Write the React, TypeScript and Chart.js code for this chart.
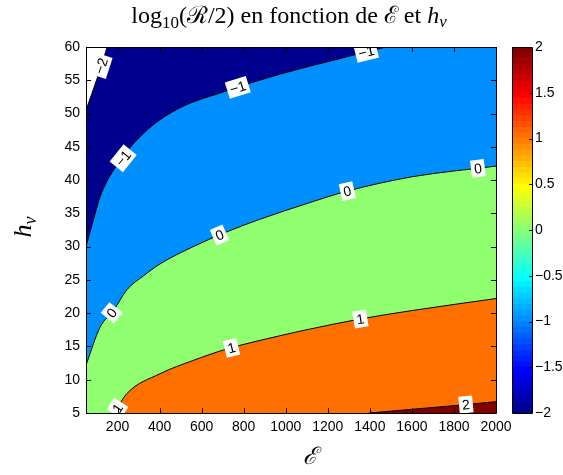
import React, { useEffect, useRef } from "react";
import { Chart, registerables } from "chart.js";

Chart.register(...registerables);

// ---------- axes ----------
const E_MIN = 50;
const E_MAX = 2000;
const H_MIN = 5;
const H_MAX = 60;
const xTicks = [200, 400, 600, 800, 1000, 1200, 1400, 1600, 1800, 2000];
const yTicks = [5, 10, 15, 20, 25, 30, 35, 40, 45, 50, 55, 60];
const cbTicks = [-2, -1.5, -1, -0.5, 0, 0.5, 1, 1.5, 2];
const cbMin = -2;
const cbMax = 2;

// ---------- contour lines (E, h) ----------
const levelM2E = [50, 102, 151];
const levelM2H = [50.5, 55.2, 60];

const levelM1E = [50, 85, 117, 181, 323, 481, 718, 971, 1113, 1300, 1476];
const levelM1H = [30, 34, 37.5, 41.5, 47, 50.6, 53.4, 55.9, 57.1, 58.6, 60];

const level0E = [50, 117, 181, 244, 323, 402, 560, 718, 876, 1113, 1287, 1602, 2000];
const level0H = [12.2, 17.9, 20.4, 23.5, 25.6, 27.4, 30, 32.2, 34.1, 36.6, 38.3, 40.5, 42.1];

const level1E = [185, 244, 402, 560, 718, 971, 1113, 1350, 1602, 2000];
const level1H = [5, 7.9, 10.9, 12.9, 14.6, 16.6, 17.6, 19.1, 20.4, 22.2];

const level2E = [1397, 1600, 1800, 2000];
const level2H = [5, 5.55, 6.1, 6.7];

// ---------- contour label positions (E) ----------
const labelsM2 = [122];
const labelsM1 = [227, 772, 1383];
const labels0 = [172, 685, 1293, 1914];
const labels1 = [200, 742, 1355];
const labels2 = [1857];

// jet colormap (MATLAB)
function jet(m: number): string[] {
  const n = Math.ceil(m / 4);
  const u: number[] = [];
  for (let i = 1; i <= n; i++) u.push(i / n);
  for (let i = 1; i <= n - 1; i++) u.push(1);
  for (let i = n; i >= 1; i--) u.push(i / n);
  const off = Math.ceil(n / 2) - (m % 4 === 1 ? 1 : 0);
  const J = Array.from({ length: m }, () => [0, 0, 0]);
  u.forEach((val, k) => {
    const g = off + k + 1;
    const r = g + n;
    const b = g - n;
    if (g >= 1 && g <= m) J[g - 1][1] = val;
    if (r >= 1 && r <= m) J[r - 1][0] = val;
    if (b >= 1 && b <= m) J[b - 1][2] = val;
  });
  return J.map(
    ([r, g, b]) => `rgb(${Math.round(r * 255)},${Math.round(g * 255)},${Math.round(b * 255)})`
  );
}
const JET = jet(64);
const colorFor = (v: number) => {
  const idx = Math.min(63, Math.max(0, Math.floor(((v - cbMin) / (cbMax - cbMin)) * 64)));
  return JET[idx];
};

const pts = (E: number[], H: number[]) => E.map((e, i) => ({ x: e, y: H[i] }));

const contours = [
  { level: -2, E: levelM2E, H: levelM2H, labels: labelsM2 },
  { level: -1, E: levelM1E, H: levelM1H, labels: labelsM1 },
  { level: 0, E: level0E, H: level0H, labels: labels0 },
  { level: 1, E: level1E, H: level1H, labels: labels1 },
  { level: 2, E: level2E, H: level2H, labels: labels2 },
];

const fmt = (v: number) => (v < 0 ? "\u2212" + Math.abs(v) : String(v));
const TICK_FONT = '14px "Liberation Sans", Arial, Helvetica, sans-serif';

const decorPlugin = {
  id: "contourDecor",
  afterDatasetsDraw(chart: any) {
    const ctx = chart.ctx as CanvasRenderingContext2D;
    const { left, right, top, bottom } = chart.chartArea;
    const xs = chart.scales.x;
    const ys = chart.scales.y;
    ctx.save();
    ctx.beginPath();
    ctx.rect(left, top, right - left, bottom - top);
    ctx.clip();
    ctx.font = TICK_FONT;
    ctx.textAlign = "center";
    ctx.textBaseline = "middle";
    for (const c of contours) {
      for (const e of c.labels) {
        let i = 0;
        while (i < c.E.length - 2 && c.E[i + 1] < e) i++;
        const x0 = xs.getPixelForValue(c.E[i]);
        const x1 = xs.getPixelForValue(c.E[i + 1]);
        const y0 = ys.getPixelForValue(c.H[i]);
        const y1 = ys.getPixelForValue(c.H[i + 1]);
        const t = (e - c.E[i]) / (c.E[i + 1] - c.E[i]);
        const px = x0 + t * (x1 - x0);
        const py = y0 + t * (y1 - y0);
        let ang = Math.atan2(y1 - y0, x1 - x0);
        if (ang > Math.PI / 2) ang -= Math.PI;
        if (ang < -Math.PI / 2) ang += Math.PI;
        const txt = fmt(c.level);
        const w = ctx.measureText(txt).width + 6;
        const h = 17;
        ctx.save();
        ctx.translate(px, py);
        ctx.rotate(ang);
        ctx.fillStyle = "#fff";
        ctx.fillRect(-w / 2, -h / 2, w, h);
        ctx.fillStyle = "#000";
        ctx.fillText(txt, 0, 1);
        ctx.restore();
      }
    }
    ctx.restore();

    // frame and inward ticks
    ctx.save();
    ctx.strokeStyle = "#000";
    ctx.lineWidth = 1;
    ctx.beginPath();
    ctx.rect(Math.round(left) + 0.5, Math.round(top) + 0.5, Math.round(right - left), Math.round(bottom - top));
    ctx.stroke();
    const tl = 5;
    ctx.beginPath();
    for (const v of xTicks) {
      const x = Math.round(xs.getPixelForValue(v)) + 0.5;
      ctx.moveTo(x, bottom);
      ctx.lineTo(x, bottom - tl);
      ctx.moveTo(x, top);
      ctx.lineTo(x, top + tl);
    }
    for (const v of yTicks) {
      const y = Math.round(ys.getPixelForValue(v)) + 0.5;
      ctx.moveTo(left, y);
      ctx.lineTo(left + tl, y);
      ctx.moveTo(right, y);
      ctx.lineTo(right - tl, y);
    }
    ctx.stroke();
    ctx.restore();
  },
  afterDraw(chart: any) {
    const ctx = chart.ctx as CanvasRenderingContext2D;
    ctx.save();
    ctx.fillStyle = "#000";
    ctx.textBaseline = "alphabetic";
    // title with subscripts
    const big = '24px "Liberation Serif", "DejaVu Serif", serif';
    const small = '17px "Liberation Serif", "DejaVu Serif", serif';
    const bigI = 'italic 24px "Liberation Serif", "DejaVu Serif", serif';
    const smallI = 'italic 17px "Liberation Serif", "DejaVu Serif", serif';
    const segs: [string, string, number][] = [
      ["log", big, 0],
      ["10", small, 5],
      ["(\u211B/2) en fonction de \u2130 et ", big, 0],
      ["h", bigI, 0],
      ["v", smallI, 4],
    ];
    let total = 0;
    for (const [t, f] of segs) {
      ctx.font = f;
      total += ctx.measureText(t).width;
    }
    let x = 289 - total / 2;
    const base = 23;
    ctx.textAlign = "left";
    for (const [t, f, dy] of segs) {
      ctx.font = f;
      ctx.fillText(t, x, base + dy);
      x += ctx.measureText(t).width;
    }
    // x label
    ctx.font = 'italic 24px "Liberation Serif", "DejaVu Serif", serif';
    ctx.textAlign = "center";
    ctx.textBaseline = "middle";
    ctx.fillText("\u2130", 310, 458);
    // y label rotated
    ctx.save();
    ctx.translate(23, 227);
    ctx.rotate(-Math.PI / 2);
    const hF = 'italic 26px "Liberation Serif", "DejaVu Serif", serif';
    const vF = 'italic 18px "Liberation Serif", "DejaVu Serif", serif';
    ctx.font = hF;
    const hw = ctx.measureText("h").width;
    ctx.font = vF;
    const vw = ctx.measureText("v").width;
    const start = -(hw + vw) / 2;
    ctx.textAlign = "left";
    ctx.textBaseline = "alphabetic";
    ctx.font = hF;
    ctx.fillText("h", start, 8);
    ctx.font = vF;
    ctx.fillText("v", start + hw, 13);
    ctx.restore();
    ctx.restore();
  },
};

const cbPlugin = {
  id: "cbDecor",
  afterDatasetsDraw(chart: any) {
    const ctx = chart.ctx as CanvasRenderingContext2D;
    const { left, right, top, bottom } = chart.chartArea;
    const ys = chart.scales.y;
    ctx.save();
    ctx.strokeStyle = "#000";
    ctx.lineWidth = 1;
    ctx.beginPath();
    ctx.rect(Math.round(left) + 0.5, Math.round(top) + 0.5, Math.round(right - left), Math.round(bottom - top));
    ctx.stroke();
    ctx.beginPath();
    for (const v of cbTicks) {
      const y = Math.round(ys.getPixelForValue(v)) + 0.5;
      ctx.moveTo(right, y);
      ctx.lineTo(right - 3, y);
    }
    ctx.stroke();
    ctx.restore();
  },
};

export default function App() {
  const mainRef = useRef<HTMLCanvasElement>(null);
  const cbRef = useRef<HTMLCanvasElement>(null);

  useEffect(() => {
    if (!mainRef.current || !cbRef.current) return;
    const lineBase = {
      borderColor: "#000",
      borderWidth: 1,
      pointRadius: 0,
      cubicInterpolationMode: "monotone" as const,
    };
    const main = new Chart(mainRef.current, {
      type: "line",
      data: {
        datasets: [
          { ...lineBase, label: "fill0", data: pts(level0E, level0H), fill: "start", backgroundColor: colorFor(0), borderWidth: 0, order: 6 },
          { ...lineBase, label: "1", data: pts(level1E, level1H), fill: "start", backgroundColor: colorFor(1), order: 5 },
          { ...lineBase, label: "2", data: pts(level2E, level2H), fill: "start", backgroundColor: colorFor(2), order: 4 },
          { ...lineBase, label: "0", data: pts(level0E, level0H), fill: "end", backgroundColor: colorFor(-1), order: 3 },
          { ...lineBase, label: "-1", data: pts(levelM1E, levelM1H), fill: "end", backgroundColor: colorFor(-2), order: 2 },
          { ...lineBase, label: "-2", data: pts(levelM2E, levelM2H), fill: "end", backgroundColor: "#ffffff", order: 1 },
        ],
      },
      options: {
        animation: false,
        responsive: false,
        devicePixelRatio: 1,
        layout: { padding: { left: 0, top: 47, right: 67, bottom: 0 } },
        plugins: {
          legend: { display: false },
          tooltip: { enabled: false },
          title: { display: false },
        },
        scales: {
          x: {
            type: "linear",
            min: E_MIN,
            max: E_MAX,
            grid: { display: false, drawTicks: false },
            border: { display: false },
            afterBuildTicks: (s: any) => {
              s.ticks = xTicks.map((v) => ({ value: v }));
            },
            afterFit: (s: any) => {
              s.height = 62;
            },
            ticks: {
              font: { family: '"Liberation Sans", Arial, sans-serif', size: 14 },
              color: "#000",
              padding: 6,
              maxRotation: 0,
              autoSkip: false,
              callback: (v: any) => String(v),
            },
          },
          y: {
            type: "linear",
            min: H_MIN,
            max: H_MAX,
            grid: { display: false, drawTicks: false },
            border: { display: false },
            afterBuildTicks: (s: any) => {
              s.ticks = yTicks.map((v) => ({ value: v }));
            },
            afterFit: (s: any) => {
              s.width = 86;
            },
            ticks: {
              font: { family: '"Liberation Sans", Arial, sans-serif', size: 14 },
              color: "#000",
              padding: 6,
              autoSkip: false,
              callback: (v: any) => String(v),
            },
          },
        },
      },
      plugins: [decorPlugin],
    });

    const cb = new Chart(cbRef.current, {
      type: "bar",
      data: {
        labels: ["cb"],
        datasets: JET.map((c, i) => ({
          label: "c" + i,
          data: [[cbMin + (i * (cbMax - cbMin)) / 64, cbMin + ((i + 1) * (cbMax - cbMin)) / 64]] as any,
          backgroundColor: c,
          borderWidth: 0,
          grouped: false,
          barPercentage: 1,
          categoryPercentage: 1,
        })),
      },
      options: {
        animation: false,
        responsive: false,
        devicePixelRatio: 1,
        layout: { padding: { left: 12, top: 47, right: 0, bottom: 62 } },
        plugins: { legend: { display: false }, tooltip: { enabled: false } },
        scales: {
          x: { display: false },
          y: {
            position: "right",
            min: cbMin,
            max: cbMax,
            grid: { display: false, drawTicks: false },
            border: { display: false },
            afterBuildTicks: (s: any) => {
              s.ticks = cbTicks.map((v) => ({ value: v }));
            },
            afterFit: (s: any) => {
              s.width = 31;
            },
            ticks: {
              font: { family: '"Liberation Sans", Arial, sans-serif', size: 14 },
              color: "#000",
              padding: 3,
              autoSkip: false,
              callback: (v: any) => fmt(Number(v)),
            },
          },
        },
      },
      plugins: [cbPlugin],
    });

    return () => {
      main.destroy();
      cb.destroy();
    };
  }, []);

  return (
    <div
      style={{
        position: "absolute",
        left: 0,
        top: 0,
        width: 563,
        height: 475,
        overflow: "hidden",
        background: "#fff",
      }}
    >
      <canvas
        ref={mainRef}
        width={563}
        height={475}
        style={{ position: "absolute", left: 0, top: 0, width: 563, height: 475 }}
      />
      <canvas
        ref={cbRef}
        width={63}
        height={475}
        style={{ position: "absolute", left: 500, top: 0, width: 63, height: 475 }}
      />
    </div>
  );
}
